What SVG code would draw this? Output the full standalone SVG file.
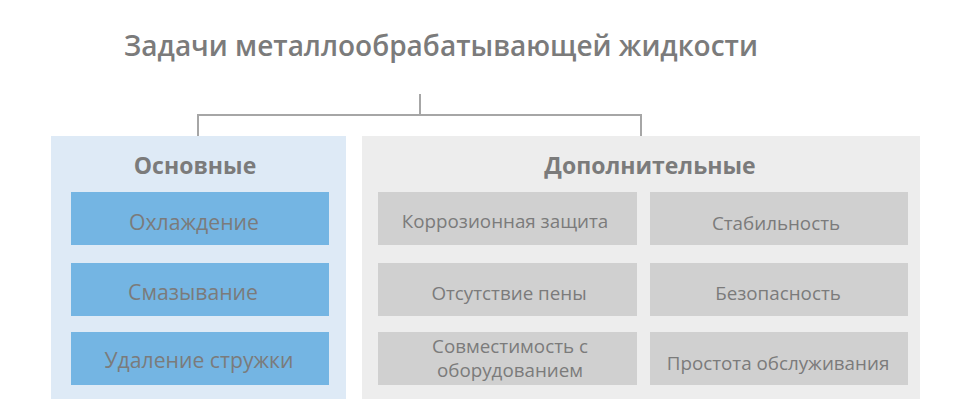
<svg xmlns="http://www.w3.org/2000/svg" width="961" height="418" viewBox="0 0 961 418">
<style>
text{font-family:"Open Sans","Noto Sans","DejaVu Sans",sans-serif;fill:#7b7b7b;text-anchor:middle}
.title{font-size:28px;font-weight:600}
.head{font-size:23px;font-weight:700}
.blue{fill:#74b5e3}
.gray{fill:#d0d0d0}
.bt{font-size:21.2px}
.gt{font-size:18.8px}
.conn{fill:none;stroke:#a6a6a6;stroke-width:2}
</style>
<rect width="961" height="418" fill="#ffffff"/>
<text class="title" x="441" y="56">Задачи металлообрабатывающей жидкости</text>
<g id="connectors">
<path class="conn" d="M420,94 V115 M198,136 V115 H641 V136"/>
</g>
<g id="main">
<rect x="51" y="136" width="295" height="263" fill="#deeaf6"/>
<text class="head" x="195" y="174">Основные</text>
</g>
<g id="cooling"><rect class="blue" x="71" y="192" width="258" height="53"/><text class="bt" x="194" y="230">Охлаждение</text></g>
<g id="lubrication"><rect class="blue" x="71" y="263" width="258" height="53"/><text class="bt" x="193" y="300">Смазывание</text></g>
<g id="chip"><rect class="blue" x="71" y="332" width="258" height="53"/><text class="bt" x="199" y="368">Удаление стружки</text></g>
<g id="additional">
<rect x="362" y="136" width="558" height="263" fill="#ededed"/>
<text class="head" x="650" y="174">Дополнительные</text>
</g>
<g id="corrosion"><rect class="gray" x="378" y="192" width="259" height="53"/><text class="gt" x="505" y="228">Коррозионная защита</text></g>
<g id="stability"><rect class="gray" x="650" y="192" width="258" height="53"/><text class="gt" x="776" y="230">Стабильность</text></g>
<g id="foam"><rect class="gray" x="378" y="263" width="259" height="53"/><text class="gt" x="509" y="300">Отсутствие пены</text></g>
<g id="safety"><rect class="gray" x="650" y="263" width="258" height="53"/><text class="gt" x="778" y="300">Безопасность</text></g>
<g id="compat"><rect class="gray" x="378" y="332" width="259" height="53"/><text class="gt" x="510" y="353">Совместимость с</text><text class="gt" x="510" y="377">оборудованием</text></g>
<g id="service"><rect class="gray" x="650" y="332" width="258" height="53"/><text class="gt" x="778" y="370">Простота обслуживания</text></g>
</svg>
